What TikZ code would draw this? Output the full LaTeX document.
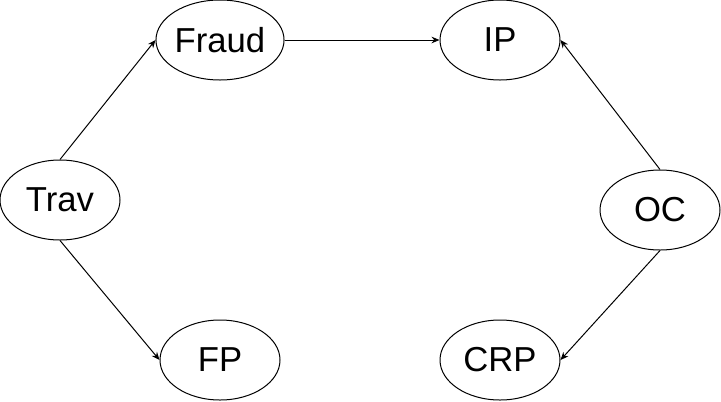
\documentclass[tikz,border=0pt]{standalone}
\usepackage{fontspec}
\setmainfont{Liberation Sans}
\usetikzlibrary{shapes.geometric,arrows.meta}
\begin{document}
\begin{tikzpicture}[x=0.75pt,y=-0.75pt,
  ell/.style={draw,ellipse,line width=0.75pt,minimum width=90pt,minimum height=60pt,inner sep=0pt,font=\fontsize{26pt}{30pt}\selectfont},
  conn/.style={draw,line width=0.75pt,-{Stealth[length=6pt,width=5pt,inset=2pt]}}]
\useasboundingbox (0,0) rectangle (721,401);
\node[ell] (trav) at (60,200) {Trav};
\node[ell] (fraud) at (220,40) {Fraud};
\node[ell] (ip) at (500,40) {IP};
\node[ell] (oc) at (660,210) {OC};
\node[ell] (fp) at (220,360) {FP};
\node[ell] (crp) at (500,360) {CRP};
\draw[conn] (trav.north) -- (fraud.west);
\draw[conn] (trav.south) -- (fp.west);
\draw[conn] (fraud.east) -- (ip.west);
\draw[conn] (oc.north) -- (ip.east);
\draw[conn] (oc.south) -- (crp.east);
\end{tikzpicture}
\end{document}
